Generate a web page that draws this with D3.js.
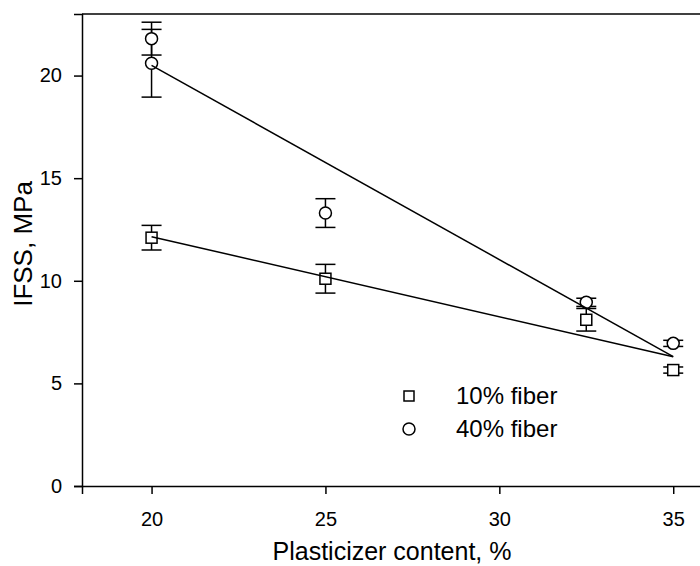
<!DOCTYPE html>
<html lang="en">
    <head>
        <meta charset="utf-8">
        <title>IFSS vs plasticizer</title>
        <script src="https://d3js.org/d3.v7.min.js"></script>
        <style type="text/css">
            body { margin: 0; background: white; }
            svg { display: block; }
            text { font-family: "Liberation Sans", Arial, sans-serif; fill: black; }
        </style>
    </head>
    <body>
        <svg width="700" height="566"></svg>
        <script type="text/javascript">

            // data
            const xTicks = [20, 25, 30, 35];
            const yTicks = [0, 5, 10, 15, 20];

            const fiber10X = [20, 25, 32.5, 35];
            const fiber10Y = [12.1, 10.1, 8.1, 5.65];
            const fiber10Err = [0.6, 0.7, 0.55, 0.15];

            const fiber40X = [20, 20, 25, 32.5, 35];
            const fiber40Y = [21.8, 20.6, 13.3, 8.95, 6.95];
            const fiber40Err = [0.8, 1.65, 0.7, 0.2, 0.15];

            // fitted lines (end points)
            const fit10X = [20, 35];
            const fit10Y = [12.15, 6.3];
            const fit40X = [20, 35];
            const fit40Y = [20.5, 6.3];

            const legendLabels = ["10% fiber", "40% fiber"];

            const svg = d3.select("svg");
            const x = d3.scaleLinear().domain([18, 36]).range([82, 708]);
            const y = d3.scaleLinear().domain([0, 23]).range([486, 14]);

            const xAxis = svg.append("g")
                             .attr("transform", "translate(0,486)")
                             .call(d3.axisBottom(x).tickValues(xTicks).tickSize(8).tickPadding(18));
            const yAxis = svg.append("g")
                             .attr("transform", "translate(82,0)")
                             .call(d3.axisLeft(y).tickValues(yTicks).tickSize(8).tickPadding(12));
            [xAxis, yAxis].forEach(a => {
                a.selectAll("path, line").attr("stroke", "black").attr("stroke-width", 1.5);
                a.selectAll("text").style("font-size", "20px")
                 .style("font-family", "'Liberation Sans', Arial, sans-serif");
            });
            // top and right border
            svg.append("line")
               .attr("x1", x(18)).attr("x2", x(36))
               .attr("y1", y(23)).attr("y2", y(23))
               .attr("stroke", "black").attr("stroke-width", 1.5);
            svg.append("line")
               .attr("x1", x(36)).attr("x2", x(36))
               .attr("y1", y(23)).attr("y2", y(0))
               .attr("stroke", "black").attr("stroke-width", 1.5);

            // axis titles
            svg.append("text")
               .attr("x", 392).attr("y", 560)
               .attr("text-anchor", "middle")
               .style("font-size", "25px")
               .text("Plasticizer content, %");
            svg.append("text")
               .attr("transform", "translate(32,244) rotate(-90)")
               .attr("text-anchor", "middle")
               .style("font-size", "26px")
               .text("IFSS, MPa");

            const series = [
                {xs: fiber10X, ys: fiber10Y, err: fiber10Err, shape: "square"},
                {xs: fiber40X, ys: fiber40Y, err: fiber40Err, shape: "circle"}
            ];

            const plot = svg.append("g");
            series.forEach(s => {
                const pts = s.xs.map((v, i) => ({x: v, y: s.ys[i], e: s.err[i]}));
                // error bars
                const eb = plot.append("g").attr("stroke", "black").attr("stroke-width", 1.5);
                pts.forEach(p => {
                    eb.append("line")
                      .attr("x1", x(p.x)).attr("x2", x(p.x))
                      .attr("y1", y(p.y + p.e)).attr("y2", y(p.y - p.e));
                    [p.y + p.e, p.y - p.e].forEach(v => {
                        eb.append("line")
                          .attr("x1", x(p.x) - 10).attr("x2", x(p.x) + 10)
                          .attr("y1", y(v)).attr("y2", y(v));
                    });
                });
                // markers
                if (s.shape === "square") {
                    plot.selectAll(null).data(pts).enter()
                        .append("rect")
                        .attr("x", d => x(d.x) - 5.5).attr("y", d => y(d.y) - 5.5)
                        .attr("width", 11).attr("height", 11)
                        .attr("fill", "white").attr("stroke", "black").attr("stroke-width", 1.5);
                } else {
                    plot.selectAll(null).data(pts).enter()
                        .append("circle")
                        .attr("cx", d => x(d.x)).attr("cy", d => y(d.y))
                        .attr("r", 6)
                        .attr("fill", "white").attr("stroke", "black").attr("stroke-width", 1.5);
                }
            });

            // fit lines on top
            const line = d3.line().x(d => x(d[0])).y(d => y(d[1]));
            [[fit10X, fit10Y], [fit40X, fit40Y]].forEach(f => {
                plot.append("path")
                    .attr("d", line(f[0].map((v, i) => [v, f[1][i]])))
                    .attr("fill", "none").attr("stroke", "black").attr("stroke-width", 1.5);
            });

            // legend
            const legend = svg.append("g");
            legendLabels.forEach((lab, i) => {
                const cy = 396 + i * 33;
                if (i === 0) {
                    legend.append("rect")
                          .attr("x", 404).attr("y", cy - 5).attr("width", 10).attr("height", 10)
                          .attr("fill", "white").attr("stroke", "black").attr("stroke-width", 1.5);
                } else {
                    legend.append("circle")
                          .attr("cx", 409).attr("cy", cy).attr("r", 6)
                          .attr("fill", "white").attr("stroke", "black").attr("stroke-width", 1.5);
                }
                legend.append("text")
                      .attr("x", 456).attr("y", cy + 8)
                      .style("font-size", "24px")
                      .text(lab);
            });

        </script>
    </body>
</html>
